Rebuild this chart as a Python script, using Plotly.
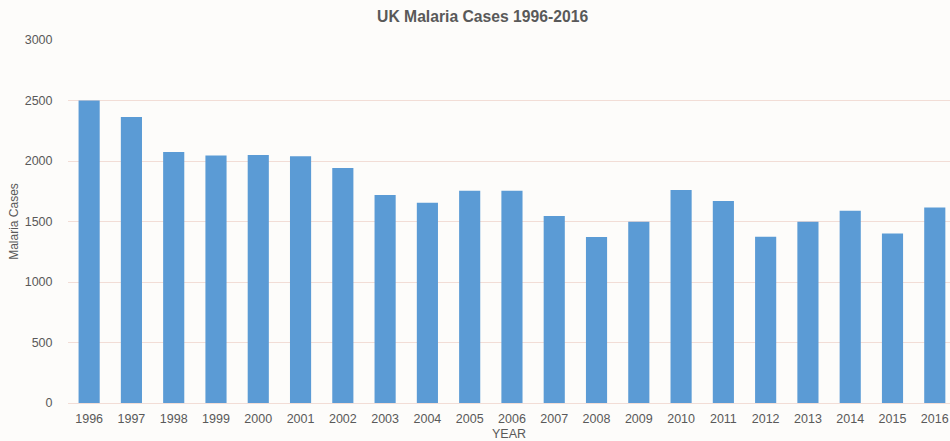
import plotly.graph_objects as go

years = ["1996", "1997", "1998", "1999", "2000", "2001", "2002", "2003", "2004", "2005", "2006",
         "2007", "2008", "2009", "2010", "2011", "2012", "2013", "2014", "2015", "2016"]
cases = [2500, 2364, 2074, 2045, 2050, 2040, 1942, 1720, 1655, 1754, 1754,
         1545, 1372, 1498, 1760, 1669, 1373, 1498, 1589, 1400, 1615]
y_ticks = [0, 500, 1000, 1500, 2000, 2500, 3000]

font_family = "Liberation Sans, Arial, sans-serif"
text_color = "#595959"

fig = go.Figure(go.Bar(
    x=years, y=cases,
    width=0.5,
    marker=dict(color="#5b9bd5", line=dict(width=0)),
))

fig.update_layout(
    width=950, height=441,
    margin=dict(l=68, r=0, t=40, b=38),
    paper_bgcolor="#fdfcfa", plot_bgcolor="#fdfcfa",
    font=dict(family=font_family, color=text_color, size=12),
    title=dict(text="<b>UK Malaria Cases 1996-2016</b>", x=0.508, xref="container",
               xanchor="center", y=0.962, yref="container", yanchor="middle",
               font=dict(size=15.7, color=text_color)),
    showlegend=False,
    bargap=0.5,
)
fig.update_xaxes(
    type="category", range=[-0.5, 20.36],
    showgrid=False, showline=False, zeroline=False,
    ticks="outside", ticklen=4, tickcolor="rgba(0,0,0,0)",
    tickfont=dict(size=12.5, color=text_color),
    title=dict(text="YEAR", font=dict(size=12.5, color=text_color), standoff=6),
)
fig.update_yaxes(
    range=[0, 3000], tickvals=y_ticks,
    showgrid=True, gridcolor="#f2ddd6", gridwidth=1,
    zeroline=True, zerolinecolor="#f2ddd6", zerolinewidth=1,
    showline=False,
    ticks="outside", ticklen=12, tickcolor="rgba(0,0,0,0)",
    tickfont=dict(size=12.5, color=text_color),
    title=dict(text="Malaria Cases", font=dict(size=12, color=text_color), standoff=3),
)

fig.write_html("out.html", config={"displayModeBar": False},
               post_script="document.body.style.margin='0';document.body.style.overflow='hidden';")
